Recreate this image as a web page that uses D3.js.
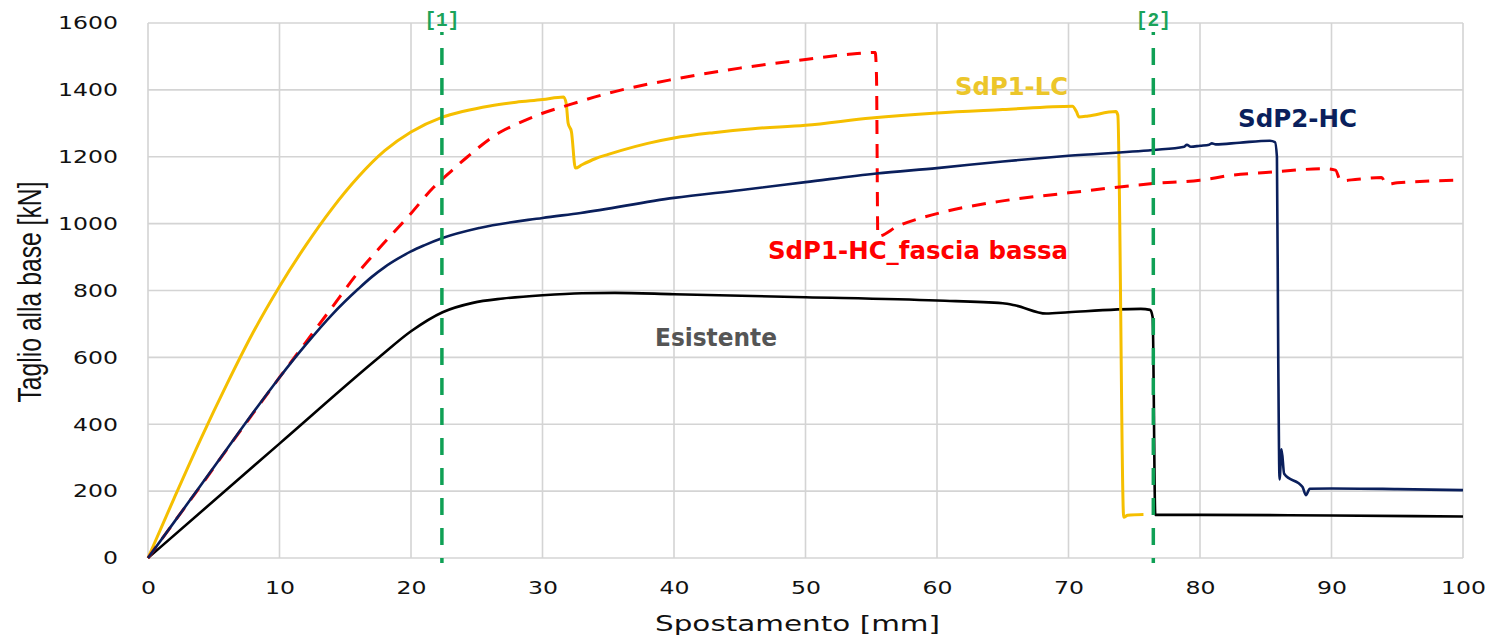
<!DOCTYPE html>
<html>
<head>
<meta charset="utf-8">
<script src="https://cdn.jsdelivr.net/npm/d3@7/dist/d3.min.js"></script>
<style>
body { margin: 0; background: #fff; }
svg { display: block; }
</style>
</head>
<body>
<div id="canvas"><svg width="1488" height="641"></svg></div>
<script>
// tick values
var xTicks = [0, 10, 20, 30, 40, 50, 60, 70, 80, 90, 100];
var yTicks = [0, 200, 400, 600, 800, 1000, 1200, 1400, 1600];

// [spostamento mm, taglio kN]
var esistente = [[0,0],[10,342],[17.6,601],[20,678],[22.4,735],[24.7,763],[27,776],[30,786],[33,792],[35.5,793],
  [40,789],[50,780],[60,770],[65,762],[66,755],[68.3,731],[70,735],[75.5,745],[76.2,742],[76.4,720],[76.6,129],
  [80,129],[90,127],[100,124]];

var sdp2HC = [[0,0],[2,108],[4,217],[6,326],[8,435],[10,540],[12,638],[14,728],[16,805],[17,840],[18,870],
  [19,895],[20,917],[21,935],[22.4,957],[25.2,987],[30,1017],[32.9,1032],[40,1077],[45,1100],[50,1124],
  [55.4,1150],[60,1166],[65,1186],[70,1203],[76.4,1220],[78.8,1230],[79,1236],[79.3,1230],[80,1233],
  [80.7,1236],[80.9,1240],[81.2,1237],[83,1242],[85.3,1248],[85.7,1244],[85.85,1200],[85.95,600],
  [86.05,235],[86.2,325],[86.4,252],[87.8,212],[88.05,188],[88.35,207],[90,208],[95,206],[100,203]];

var sdp1LC = [[0,0],[2,180],[4,355],[6,520],[8,675],[10,812],[12,935],[14,1045],[16,1140],[18,1218],[20,1274],
  [22.3,1317],[24,1336],[26,1352],[28,1363],[30,1371],[31.6,1379],[31.8,1360],[31.95,1300],[32.2,1275],
  [32.5,1166],[33,1176],[34,1194],[35,1207],[36,1219],[38,1240],[40,1256],[43,1272],[46,1284],[50,1294],
  [55,1316],[60,1331],[65,1341],[70.3,1351],[70.6,1335],[70.8,1319],[71.5,1322],[73.6,1335],[73.75,1325],
  [74.2,122],[74.5,128],[75.7,130]];

var sdp1HCfascia = [[0,0],[2,108],[4,215],[6,325],[8,433],[10,540],[12,645],[14,750],[16,855],[17.6,927],
  [19.9,1026],[21.7,1108],[23,1155],[24.3,1200],[26.8,1274],[28,1297],[30,1330],[32,1355],[35,1390],[40,1432],
  [45,1465],[50,1491],[53,1505],[55.3,1512],[55.4,1440],[55.5,962],[57,992],[60,1030],[65,1068],[70,1092],
  [76.5,1120],[80,1130],[82.5,1145],[85,1153],[89.5,1164],[90.3,1160],[90.7,1128],[92,1133],[93.8,1138],
  [94.2,1118],[95,1122],[100,1130]];

var markerNames = ["[1]", "[2]"];
var markerX = [22.35, 76.45];

var svg = d3.select("#canvas svg"),
    margin = {top: 23, right: 25, bottom: 83, left: 148},
    width = 1488 - margin.left - margin.right,
    height = 641 - margin.top - margin.bottom;

var x = d3.scaleLinear().domain([0, 100]).range([0, width]);
var y = d3.scaleLinear().domain([0, 1600]).range([height, 0]);

var g = svg.append("g").attr("transform", "translate(" + margin.left + "," + margin.top + ")");

// grid
g.selectAll(".hgrid").data(yTicks).enter().append("line")
  .attr("x1", 0).attr("x2", width)
  .attr("y1", function (d) { return y(d); }).attr("y2", function (d) { return y(d); })
  .attr("stroke", "#d4d4d4").attr("stroke-width", 1.6);
g.selectAll(".vgrid").data(xTicks).enter().append("line")
  .attr("y1", 0).attr("y2", height)
  .attr("x1", function (d) { return x(d); }).attr("x2", function (d) { return x(d); })
  .attr("stroke", "#d4d4d4").attr("stroke-width", 1.6);

// axes (labels only)
var xAxis = g.append("g").attr("transform", "translate(0," + height + ")")
  .call(d3.axisBottom(x).tickValues(xTicks).tickFormat(d3.format("d")).tickSize(0).tickPadding(23));
var yAxis = g.append("g")
  .call(d3.axisLeft(y).tickValues(yTicks).tickFormat(d3.format("d")).tickSize(0).tickPadding(30));
[xAxis, yAxis].forEach(function (a) {
  a.select(".domain").remove();
  a.selectAll("text")
    .attr("font-family", "DejaVu Sans")
    .attr("font-size", 18)
    .attr("fill", "#111")
    .attr("lengthAdjust", "spacingAndGlyphs")
    .attr("textLength", function () { return 15 * this.textContent.length; });
});

// axis titles
svg.append("text")
  .attr("x", 655).attr("y", 631)
  .attr("font-family", "DejaVu Sans").attr("font-size", 22).attr("fill", "#111")
  .attr("textLength", 285).attr("lengthAdjust", "spacingAndGlyphs")
  .text("Spostamento [mm]");

svg.append("text")
  .attr("transform", "translate(41,292) rotate(-90) scale(1,1.55)")
  .attr("text-anchor", "middle")
  .attr("font-family", "Liberation Sans").attr("font-size", 22).attr("fill", "#111")
  .attr("textLength", 221).attr("lengthAdjust", "spacingAndGlyphs")
  .text("Taglio alla base [kN]");

// curves
var line = d3.line()
  .curve(d3.curveMonotoneX)
  .x(function (d) { return x(d[0]); })
  .y(function (d) { return y(d[1]); });

g.append("path").datum(esistente).attr("d", line)
  .attr("fill", "none").attr("stroke", "#000").attr("stroke-width", 2.6).attr("stroke-linejoin", "round");
g.append("path").datum(sdp1LC).attr("d", line)
  .attr("fill", "none").attr("stroke", "#f5bf00").attr("stroke-width", 3).attr("stroke-linejoin", "round");
g.append("path").datum(sdp1HCfascia).attr("d", line)
  .attr("fill", "none").attr("stroke", "#ff0000").attr("stroke-width", 3)
  .attr("stroke-dasharray", "14,10").attr("stroke-linejoin", "round");
g.append("path").datum(sdp2HC).attr("d", line)
  .attr("fill", "none").attr("stroke", "#0a1f5c").attr("stroke-width", 2.6).attr("stroke-linejoin", "round");

// vertical reference lines
markerX.forEach(function (mx, i) {
  g.append("line")
    .attr("x1", x(mx)).attr("x2", x(mx))
    .attr("y1", 9).attr("y2", height + 5)
    .attr("stroke", "#0fa055").attr("stroke-width", 3.5)
    .attr("stroke-dasharray", "17,13").attr("stroke-dashoffset", 14);
  svg.append("text")
    .attr("x", margin.left + x(mx)).attr("y", 26)
    .attr("text-anchor", "middle")
    .attr("font-family", "Liberation Mono").attr("font-weight", "bold").attr("font-size", 21)
    .attr("fill", "#1aa35a")
    .attr("textLength", 35).attr("lengthAdjust", "spacingAndGlyphs")
    .text(markerNames[i]);
});

// series labels
var labels = [
  {t: "SdP1-LC", x: 955, y: 95, w: 113, c: "#ecc62a"},
  {t: "SdP2-HC", x: 1238, y: 127, w: 119, c: "#0a1f5c"},
  {t: "SdP1-HC_fascia bassa", x: 768, y: 259, w: 300, c: "#ff0000"},
  {t: "Esistente", x: 655, y: 346, w: 122, c: "#555555"}
];
svg.selectAll(".slabel").data(labels).enter().append("text")
  .attr("x", function (d) { return d.x; })
  .attr("y", function (d) { return d.y; })
  .attr("font-family", "DejaVu Sans").attr("font-weight", "bold").attr("font-size", 24)
  .attr("fill", function (d) { return d.c; })
  .attr("textLength", function (d) { return d.w; })
  .attr("lengthAdjust", "spacingAndGlyphs")
  .text(function (d) { return d.t; });
</script>
</body>
</html>
